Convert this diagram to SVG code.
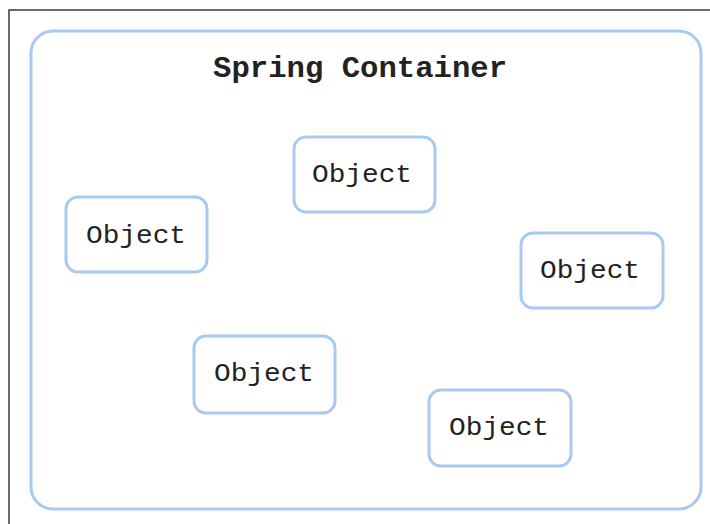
<svg xmlns="http://www.w3.org/2000/svg" width="710" height="524" viewBox="0 0 710 524">
<style>
.frame{fill:none;stroke:#3a3a3a;stroke-width:1.5}
.cont{fill:#fff;stroke:#a9c9f0;stroke-width:3}
.obj{fill:#fff;stroke:#a9c9f0;stroke-width:3}
.t{font-family:"Liberation Mono","Courier New",monospace;font-size:25px;fill:#222;text-anchor:middle}
.title{font-family:"Liberation Mono","Courier New",monospace;font-size:30px;font-weight:bold;fill:#222;text-anchor:middle}
</style>
<rect width="710" height="524" fill="#fff"/>
<path class="frame" d="M9,524 V10 H710"/>
<g id="container">
<rect class="cont" x="31" y="31" width="670" height="478" rx="22"/>
<text class="title" x="360" y="77" textLength="294" lengthAdjust="spacingAndGlyphs">Spring Container</text>
</g>
<g id="obj1"><rect class="obj" x="294" y="137" width="141" height="75" rx="12"/><text class="t" x="362" y="182" textLength="100" lengthAdjust="spacingAndGlyphs">Object</text></g>
<g id="obj2"><rect class="obj" x="66" y="197" width="141" height="75" rx="12"/><text class="t" x="136" y="243" textLength="100" lengthAdjust="spacingAndGlyphs">Object</text></g>
<g id="obj3"><rect class="obj" x="521" y="233" width="142" height="75" rx="12"/><text class="t" x="590" y="278" textLength="100" lengthAdjust="spacingAndGlyphs">Object</text></g>
<g id="obj4"><rect class="obj" x="194" y="336" width="141" height="77" rx="12"/><text class="t" x="264" y="381" textLength="100" lengthAdjust="spacingAndGlyphs">Object</text></g>
<g id="obj5"><rect class="obj" x="429" y="390" width="142" height="76" rx="12"/><text class="t" x="499" y="435" textLength="100" lengthAdjust="spacingAndGlyphs">Object</text></g>
<g id="connectors"></g>
</svg>
